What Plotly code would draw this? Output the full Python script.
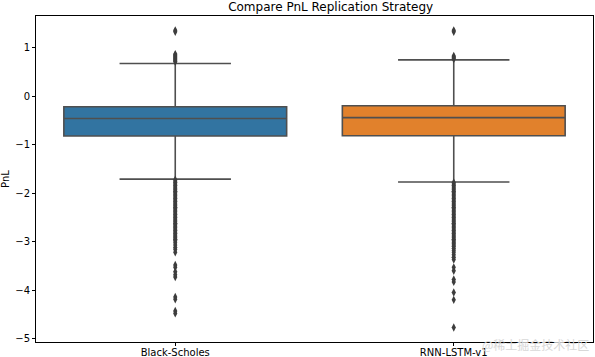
import plotly.graph_objects as go

categories = ["Black-Scholes", "RNN-LSTM-v1"]
box_colors = ["#3274a1", "#e1812c"]

q1 = [-0.82, -0.815]
median = [-0.46, -0.44]
q3 = [-0.215, -0.195]
lower_whisker = [-1.71, -1.77]
upper_whisker = [0.675, 0.75]

bs_outliers = [1.36, 1.33, 0.87, 0.85, 0.83, 0.81, 0.79, 0.77, 0.75, 0.73, 0.71,
               -1.72, -1.75, -1.78, -1.81, -1.84, -1.87, -1.90, -1.93, -1.96, -1.99,
               -2.02, -2.05, -2.08, -2.11, -2.14, -2.17, -2.20, -2.23, -2.26, -2.29,
               -2.32, -2.35, -2.38, -2.41, -2.44, -2.47, -2.50, -2.53, -2.56, -2.59,
               -2.62, -2.65, -2.68, -2.71, -2.74, -2.77, -2.80, -2.83, -2.86, -2.89,
               -2.92, -2.95, -2.98, -3.02, -3.07, -3.12, -3.16, -3.22, -3.48, -3.53,
               -3.62, -3.68, -3.73, -4.14, -4.19, -4.43, -4.48]
rnn_outliers = [1.36, 1.33, 0.83, 0.81, 0.79, 0.77,
                -1.78, -1.81, -1.84, -1.87, -1.90, -1.93, -1.96, -1.99, -2.02, -2.05,
                -2.08, -2.11, -2.14, -2.17, -2.20, -2.23, -2.26, -2.29, -2.32, -2.35,
                -2.38, -2.41, -2.44, -2.47, -2.50, -2.53, -2.56, -2.59, -2.62, -2.65,
                -2.68, -2.71, -2.74, -2.77, -2.80, -2.83, -2.86, -2.89, -2.92, -2.95,
                -2.98, -3.01, -3.04, -3.07, -3.10, -3.14, -3.18, -3.22, -3.27, -3.32,
                -3.37, -3.53, -3.60, -3.78, -3.83, -4.05, -4.20, -4.77]
outliers = [bs_outliers, rnn_outliers]

line_gray = "#4f4f4f"
font = "DejaVu Sans"

fig = go.Figure()
for i, cat in enumerate(categories):
    fig.add_trace(go.Box(
        x=[cat], q1=[q1[i]], median=[median[i]], q3=[q3[i]],
        lowerfence=[lower_whisker[i]], upperfence=[upper_whisker[i]],
        fillcolor=box_colors[i], line=dict(color=line_gray, width=1.6),
        width=0.8, whiskerwidth=0.5, boxpoints=False, showlegend=False,
        hoverinfo="skip",
    ))
    fig.add_trace(go.Scatter(
        x=[cat] * len(outliers[i]), y=outliers[i], mode="markers",
        marker=dict(symbol="diamond-tall", size=6, color="#3d3d3d",
                    line=dict(width=0)),
        showlegend=False, hoverinfo="skip",
    ))

axis_common = dict(showline=True, linecolor="black", linewidth=1, mirror=True,
                   ticks="outside", ticklen=3, tickcolor="black", showgrid=False,
                   zeroline=False, automargin=False,
                   tickfont=dict(family=font, size=10, color="black"))

fig.update_layout(
    width=595, height=357,
    margin=dict(l=36, r=2, t=16, b=15, pad=0),
    paper_bgcolor="white", plot_bgcolor="white",
    boxmode="overlay",
    title=dict(text="Compare PnL Replication Strategy", x=0.529, xanchor="center",
               xref="paper", yref="container", y=1 - 7 / 357, yanchor="middle",
               automargin=False,
               font=dict(family=font, size=12, color="black")),
    xaxis=dict(categoryorder="array", categoryarray=categories,
               range=[-0.5, 1.5], ticklabelstandoff=-2, **axis_common),
    yaxis=dict(range=[-5.07, 1.656], tickvals=[1, 0, -1, -2, -3, -4, -5],
               title=dict(text="PnL", font=dict(family=font, size=10, color="black"),
                          standoff=4),
               **axis_common),
    annotations=[dict(text="@稀土掘金技术社区", xref="paper", yref="paper",
                      x=0.997, y=-0.009, xanchor="right", yanchor="middle",
                      showarrow=False,
                      font=dict(family="Noto Sans CJK SC", size=12, color="#d8d8d8"))],
)

fig.write_html("out.html",
               config={"displayModeBar": False},
               post_script="document.body.style.margin='0';document.body.style.overflow='hidden';")
